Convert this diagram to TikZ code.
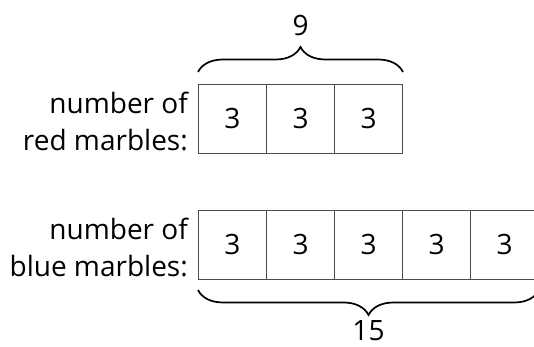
\documentclass[tikz,border=0pt]{standalone}
\usepackage{fontspec}
\setmainfont{Open Sans}
\usetikzlibrary{decorations.pathreplacing}
\begin{document}
\begin{tikzpicture}[x=1pt,y=1pt,
  cell/.style={draw=black!70, line width=1pt, minimum width=68pt, minimum height=69pt, inner sep=0pt, font=\fontsize{28}{28}\selectfont, anchor=north west},
  lbl/.style={align=right, anchor=east, font=\fontsize{28}{37}\selectfont, inner sep=0pt},
  num/.style={font=\fontsize{28}{28}\selectfont, inner sep=0pt},
  brc/.style={decorate, decoration={brace, amplitude=25pt}, line width=1.7pt}]
\useasboundingbox (0,0) rectangle (534,347);
\clip (0,0) rectangle (534,347);
% red row
\node[cell] (r1) at (198,263) {3};
\node[cell] (r2) at (266,263) {3};
\node[cell] (r3) at (334,263) {3};
% blue row
\node[cell] (b1) at (198,137) {3};
\node[cell] (b2) at (266,137) {3};
\node[cell] (b3) at (334,137) {3};
\node[cell] (b4) at (402,137) {3};
\node[cell] (b5) at (470,137) {3};
% labels
\node[lbl] (lr) at ([xshift=-10pt,yshift=-2pt]r1.west) {number of\\red marbles:};
\node[lbl] (lb) at ([xshift=-10pt,yshift=-2pt]b1.west) {number of\\blue marbles:};
% braces
\draw[brc] ([yshift=12pt]r1.north west) -- ([yshift=12pt]r3.north east);
\draw[brc] ([yshift=-10pt]b5.south east) -- ([yshift=-10pt]b1.south west);
\node[num] (t9) at (r2.center |- 0,321) {9};
\node[num,anchor=base] (t15) at (b3.center |- 0,6) {15};
\end{tikzpicture}
\end{document}
